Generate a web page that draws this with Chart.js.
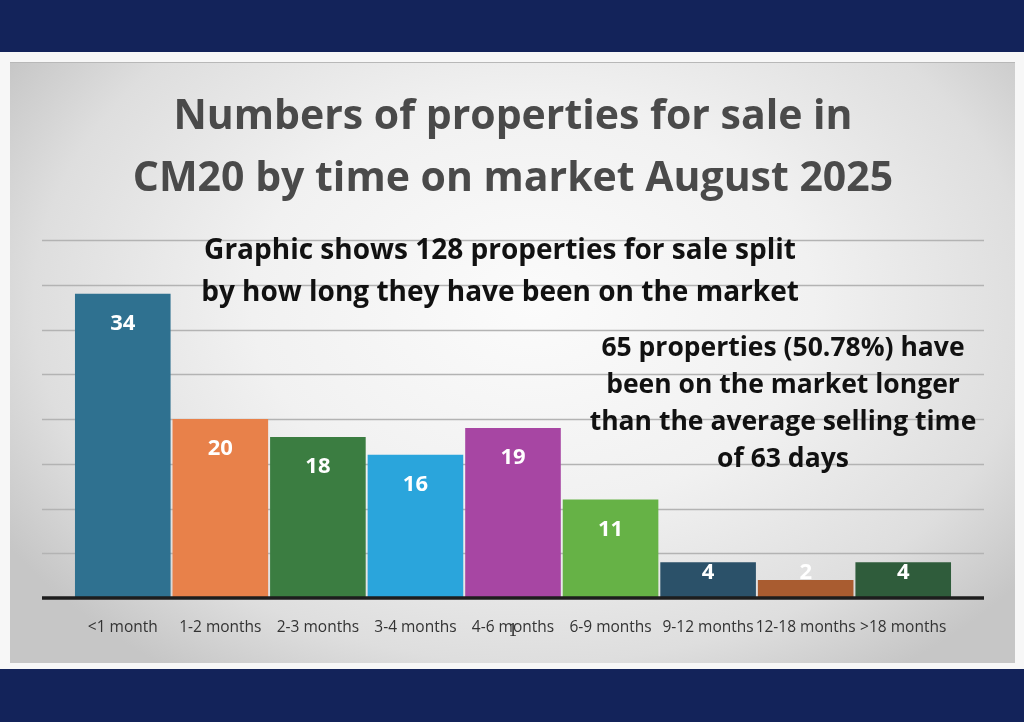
<!DOCTYPE html>
<html>
<head>
<meta charset="utf-8">
<script src="https://cdn.jsdelivr.net/npm/chart.js@4.4.1/dist/chart.umd.min.js"></script>
<style>
  html, body { margin: 0; padding: 0; width: 1024px; height: 722px; overflow: hidden; background: #f7f7f7; }
  #topband { position: absolute; left: 0; top: 0; width: 1024px; height: 52px; background: #13235a; }
  #botband { position: absolute; left: 0; top: 669px; width: 1024px; height: 53px; background: #13235a; }
  #panel { position: absolute; left: 10px; top: 62px; width: 1005px; height: 601px;
    background: radial-gradient(ellipse 62% 75% at 52% 40%, #fbfbfb 0%, #f1f1f1 45%, #dedede 80%, #c6c6c6 100%);
    border-top: 1px solid #b8b8b8; box-sizing: border-box; }
  #wrap { position: absolute; left: 10px; top: 62px; width: 1005px; height: 601px; }
</style>
</head>
<body>
<div id="topband"></div>
<div id="panel"></div>
<div id="botband"></div>
<div id="wrap"><canvas id="c" width="1005" height="601"></canvas></div>
<script>
// ---- data ----
const categories = ['<1 month', '1-2 months', '2-3 months', '3-4 months', '4-6 months', '6-9 months', '9-12 months', '12-18 months', '>18 months'];
const counts = [34, 20, 18, 16, 19, 11, 4, 2, 4];
const barColors = ['#2f7190', '#e8814a', '#3b7d41', '#2aa5dc', '#a746a3', '#66b246', '#2b5169', '#a95c30', '#2f5c3b'];
const titleLines = ['Numbers of properties for sale in', 'CM20 by time on market August 2025'];
const subtitleLines = ['Graphic shows 128 properties for sale split', 'by how long they have been on the market'];
const noteLines = ['65 properties (50.78%) have', 'been on the market longer', 'than the average selling time', 'of 63 days'];
const yMin = 0, yMax = 40, yStep = 5;

// gridlines extended beyond bar area + thick baseline
const gridPlugin = {
  id: 'gridExt',
  beforeDatasetsDraw(chart) {
    const { ctx, chartArea } = chart;
    const y = chart.scales.y;
    ctx.save();
    ctx.strokeStyle = '#b3b3b3';
    ctx.lineWidth = 1.3;
    y.ticks.forEach(t => {
      if (t.value === yMin) return;
      const py = Math.round(y.getPixelForValue(t.value)) + 0.5;
      ctx.beginPath();
      ctx.moveTo(chartArea.left - 32, py);
      ctx.lineTo(chartArea.right + 32, py);
      ctx.stroke();
    });
    ctx.restore();
  },
  afterDatasetsDraw(chart) {
    const { ctx, chartArea } = chart;
    const y = chart.scales.y;
    const base = y.getPixelForValue(yMin);
    ctx.save();
    ctx.strokeStyle = '#1d1d1d';
    ctx.lineWidth = 3.5;
    ctx.beginPath();
    ctx.moveTo(chartArea.left - 32, base);
    ctx.lineTo(chartArea.right + 32, base);
    ctx.stroke();
    // value labels
    const meta = chart.getDatasetMeta(0);
    ctx.fillStyle = '#ffffff';
    ctx.font = 'bold 22px "Open Sans"';
    ctx.textAlign = 'center';
    ctx.textBaseline = 'middle';
    meta.data.forEach((bar, i) => {
      const ly = Math.min(bar.y + 30, base - 25);
      ctx.fillText(String(counts[i]), bar.x, ly);
    });
    ctx.restore();
  },
  afterDraw(chart) {
    const { ctx, chartArea } = chart;
    ctx.save();
    ctx.textAlign = 'center';
    ctx.textBaseline = 'middle';
    ctx.fillStyle = '#111111';
    ctx.font = 'bold 28px "Open Sans"';
    subtitleLines.forEach((t, i) => ctx.fillText(t, 490, chartArea.top + 11 + i * 42));
    ctx.font = 'bold 26.5px "Open Sans"';
    noteLines.forEach((t, i) => ctx.fillText(t, 773, chartArea.top + 108 + i * 37.3));
    // stray mark under the 4-6 months label
    ctx.fillStyle = '#333333';
    ctx.font = '16px "DejaVu Serif"';
    const x = chart.scales.x;
    ctx.fillText('1', x.getPixelForValue(4), chartArea.bottom + 34);
    ctx.restore();
  }
};

new Chart(document.getElementById('c'), {
  type: 'bar',
  data: {
    labels: categories,
    datasets: [{
      data: counts,
      backgroundColor: barColors,
      borderWidth: 0,
      barPercentage: 0.98,
      categoryPercentage: 1.0
    }]
  },
  options: {
    responsive: false,
    animation: false,
    layout: { padding: { left: 64, right: 63, top: 0, bottom: 0 } },
    plugins: {
      legend: { display: false },
      tooltip: { enabled: false },
      title: {
        display: true,
        text: titleLines,
        color: '#4a4a4a',
        font: { family: '"Open Sans"', weight: 'bold', size: 41, lineHeight: 1.5 },
        padding: { top: 25, bottom: 30 }
      }
    },
    scales: {
      x: {
        grid: { display: false, drawTicks: false },
        border: { display: false },
        ticks: { color: '#333333', font: { family: '"Open Sans"', size: 15.5 }, padding: 20, autoSkip: false, maxRotation: 0 },
        afterFit(s) { s.height = 65; }
      },
      y: {
        display: false,
        min: yMin, max: yMax,
        ticks: { stepSize: yStep }
      }
    }
  },
  plugins: [gridPlugin]
});
</script>
</body>
</html>
